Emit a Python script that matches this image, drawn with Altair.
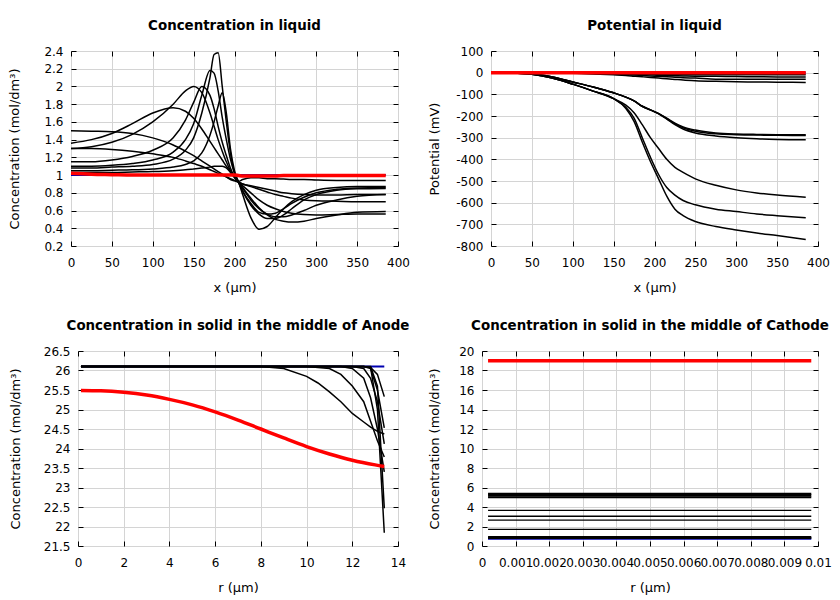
import altair as alt
import pandas as pd

FONT = "DejaVu Sans"

# ---------------- Panel 1: Concentration in liquid ----------------
LIQ_X = [0, 25, 50, 75, 100, 125, 140, 150, 160, 170, 175, 180, 185, 190, 195,
         200, 205, 210, 220, 230, 240, 250, 260, 270, 285, 300, 325, 350, 385]
LIQ_C1 = [1.03, 1.03, 1.03, 1.035, 1.04, 1.05, 1.06, 1.07, 1.08, 1.09, 1.10, 1.10, 1.10, 1.08, 1.03,
          0.97, 0.93, 0.95, 0.97, 0.97, 0.96, 0.96, 0.955, 0.95, 0.95, 0.945, 0.94, 0.94, 0.94]
LIQ_C2 = [1.05, 1.05, 1.055, 1.06, 1.07, 1.09, 1.12, 1.16, 1.25, 1.45, 1.60, 1.78, 1.93, 1.70, 1.30,
          1.05, 0.92, 0.82, 0.68, 0.58, 0.56, 0.57, 0.62, 0.68, 0.75, 0.80, 0.84, 0.855, 0.86]
LIQ_C3 = [1.08, 1.08, 1.09, 1.10, 1.12, 1.18, 1.28, 1.42, 1.70, 2.10, 2.36, 2.38, 2.00, 1.60, 1.25,
          1.02, 0.92, 0.78, 0.52, 0.39, 0.42, 0.52, 0.62, 0.70, 0.78, 0.83, 0.86, 0.87, 0.87]
LIQ_C4 = [1.10, 1.10, 1.11, 1.13, 1.17, 1.26, 1.40, 1.58, 1.90, 2.18, 2.15, 1.95, 1.65, 1.40, 1.18,
          1.02, 0.92, 0.82, 0.66, 0.56, 0.51, 0.51, 0.55, 0.62, 0.72, 0.78, 0.83, 0.845, 0.85]
LIQ_C5 = [1.15, 1.15, 1.17, 1.21, 1.28, 1.42, 1.62, 1.82, 2.00, 1.90, 1.75, 1.55, 1.37, 1.22, 1.08,
          0.98, 0.92, 0.85, 0.72, 0.62, 0.56, 0.53, 0.53, 0.55, 0.60, 0.66, 0.72, 0.76, 0.78]
LIQ_C6 = [1.30, 1.32, 1.37, 1.46, 1.60, 1.80, 1.95, 2.00, 1.93, 1.70, 1.55, 1.40, 1.27, 1.15, 1.05,
          0.98, 0.92, 0.86, 0.74, 0.63, 0.55, 0.50, 0.48, 0.47, 0.48, 0.51, 0.55, 0.58, 0.59]
LIQ_C7 = [1.36, 1.40, 1.47, 1.58, 1.70, 1.76, 1.72, 1.64, 1.52, 1.38, 1.31, 1.24, 1.17, 1.10, 1.04,
          0.98, 0.92, 0.88, 0.80, 0.72, 0.66, 0.62, 0.59, 0.57, 0.555, 0.55, 0.555, 0.56, 0.56]
LIQ_C8 = [1.50, 1.495, 1.49, 1.47, 1.42, 1.34, 1.27, 1.22, 1.16, 1.10, 1.07, 1.04, 1.01, 0.98, 0.95,
          0.935, 0.92, 0.90, 0.87, 0.84, 0.81, 0.78, 0.76, 0.74, 0.72, 0.71, 0.705, 0.70, 0.70]
LIQ_C9 = [1.30, 1.30, 1.29, 1.27, 1.24, 1.20, 1.16, 1.13, 1.10, 1.06, 1.04, 1.02, 1.00, 0.98, 0.96,
          0.94, 0.92, 0.90, 0.88, 0.86, 0.84, 0.82, 0.80, 0.79, 0.78, 0.775, 0.775, 0.78, 0.78]
LIQ_BLUE = [1.0] * len(LIQ_X)
LIQ_RED = [1.02, 1.01, 1.005, 1.0, 1.0, 1.0, 1.0, 1.0, 1.0, 1.0, 1.0, 1.0, 1.0, 1.0, 1.0,
           1.0, 0.995, 0.99, 0.99, 0.99, 0.99, 0.99, 0.995, 0.995, 0.995, 0.995, 0.995, 0.995, 0.995]

# ---------------- Panel 2: Potential in liquid ----------------
POT_X = [0, 25, 50, 75, 100, 125, 150, 165, 175, 185, 195, 205, 215, 225, 235,
         250, 275, 300, 325, 350, 385]
POT_S1 = [0, 0, 0, 0, -1, -2, -3, -4, -5, -6, -7, -8, -9, -10, -10, -10, -10, -10, -10, -10, -10]
POT_S2 = [0, 0, 0, -1, -2, -3, -5, -6, -8, -9, -10, -12, -13, -14, -15, -16, -17, -18, -19, -20, -20]
POT_S3 = [0, 0, 0, -1, -2, -4, -7, -9, -11, -13, -15, -17, -19, -21, -23, -25, -30, -30, -30, -30, -30]
POT_S4 = [0, 0, -1, -2, -3, -6, -10, -13, -16, -19, -22, -25, -28, -31, -34, -37, -40, -42, -43, -44, -45]
POT_G1 = [0, -1, -5, -20, -43, -66, -93, -113, -130, -155, -172, -188, -210, -233, -250,
          -265, -278, -283, -285, -286, -287]
POT_G2 = [0, -1, -5, -20, -43, -66, -93, -113, -130, -155, -172, -189, -212, -236, -254,
          -270, -282, -286, -288, -289, -290]
POT_G3 = [0, -1, -5, -20, -43, -66, -93, -113, -130, -155, -172, -190, -214, -240, -260,
          -278, -292, -300, -305, -308, -310]
POT_H1 = [0, -1, -7, -25, -53, -85, -120, -150, -185, -240, -300, -350, -400, -437, -460,
          -490, -520, -541, -555, -565, -575]
POT_H2 = [0, -1, -7, -25, -53, -85, -120, -160, -210, -300, -390, -470, -530, -565, -590,
          -610, -630, -641, -652, -660, -670]
POT_H3 = [0, -1, -7, -25, -53, -85, -120, -165, -225, -320, -410, -490, -570, -630, -660,
          -687, -710, -726, -740, -752, -770]
POT_RED = [0] * len(POT_X)

# ---------------- Panel 3: Concentration in solid, Anode ----------------
AN_R = [0.13, 2, 4, 6, 8, 9, 10, 10.5, 11, 11.5, 12, 12.5, 12.8, 13.1, 13.4]
AN_A1 = [26.1, 26.1, 26.1, 26.1, 26.1, 26.05, 25.85, 25.68, 25.45, 25.2, 24.9, 24.68, 24.55, 24.44, 24.37]
AN_A2 = [26.1, 26.1, 26.1, 26.1, 26.1, 26.1, 26.1, 26.08, 26.05, 25.9, 25.6, 25.2, 24.7, 24.2, 23.78]
AN_A3 = [26.1, 26.1, 26.1, 26.1, 26.1, 26.1, 26.1, 26.1, 26.1, 26.1, 26.1, 26.1, 26.08, 25.9, 25.33]
AN_A4 = [26.1, 26.1, 26.1, 26.1, 26.1, 26.1, 26.1, 26.1, 26.1, 26.1, 26.1, 26.1, 26.05, 25.5, 24.53]
AN_A5 = [26.1, 26.1, 26.1, 26.1, 26.1, 26.1, 26.1, 26.1, 26.1, 26.1, 26.1, 26.05, 25.8, 25.2, 24.12]
AN_A6 = [26.1, 26.1, 26.1, 26.1, 26.1, 26.1, 26.1, 26.1, 26.1, 26.1, 26.05, 25.8, 25.3, 24.5, 23.4]
AN_A7 = [26.1, 26.1, 26.1, 26.1, 26.1, 26.1, 26.1, 26.1, 26.1, 26.1, 26.1, 26.1, 26.1, 25.6, 22.47]
AN_A8 = [26.1, 26.1, 26.1, 26.1, 26.1, 26.1, 26.1, 26.1, 26.1, 26.1, 26.1, 26.1, 26.08, 25.0, 21.84]
AN_BLUE = [26.1] * len(AN_R)
AN_RED_R = [0.13, 1, 2, 3, 4, 5, 6, 7, 8, 9, 10, 11, 12, 13, 13.4]
AN_RED = [25.49, 25.48, 25.44, 25.37, 25.26, 25.12, 24.94, 24.73, 24.5, 24.27, 24.05, 23.86, 23.7, 23.58, 23.54]

# ---------------- Panel 4: Concentration in solid, Cathode ----------------
CA_R = [0.00018, 0.0098]
CA_LEVELS = [5.35, 5.2, 5.0, 3.65, 3.05, 2.65, 1.7, 0.92, 0.82]
CA_WIDTHS = [2.2, 2.2, 2.2, 1.3, 1.3, 1.3, 1.3, 2.2, 2.2]
CA_BLUE = 0.75
CA_RED = 19.0


def long_df(xs, series):
    rows = []
    for name, ys in series.items():
        for x, y in zip(xs, ys):
            rows.append({"x": x, "y": y, "s": name})
    return pd.DataFrame(rows)


LABEL_EXPR = "'' + datum.value"


def axis_main(**kw):
    d = dict(grid=True, gridColor="#d4d4d4", gridWidth=1, domain=False,
             tickColor="black", tickSize=5, tickWidth=1, offset=-5,
             labelFont=FONT, labelFontSize=12, labelColor="black",
             titleFont=FONT, titleFontSize=13, titleFontWeight="normal",
             titleColor="black", labelOverlap=False, labelFlush=False,
             labelExpr=LABEL_EXPR)
    d.update(kw)
    return alt.Axis(**d)


def axis_mirror(orient, vals):
    return alt.Axis(orient=orient, values=vals, labels=False, grid=False, domain=False,
                    tickColor="black", tickSize=5, tickWidth=1, offset=-5, title=None)


def panel(title, black_df, blue_df, red_df, xdom, xvals, ydom, yvals,
          xtitle, ytitle, w, h, ytp, black_interp="monotone",
          red_interp="monotone", black_width_field=False):
    xs = alt.Scale(domain=xdom, nice=False, zero=False)
    ys = alt.Scale(domain=ydom, nice=False, zero=False)
    xa = axis_main(values=xvals, title=xtitle, labelPadding=11, titlePadding=13)
    ya = axis_main(values=yvals, title=ytitle, labelPadding=8, titlePadding=ytp)
    enc = dict(x=alt.X("x:Q", scale=xs, axis=xa), y=alt.Y("y:Q", scale=ys, axis=ya),
               detail="s:N")
    if black_width_field:
        enc["strokeWidth"] = alt.StrokeWidth("w:Q", scale=None)
        black = alt.Chart(black_df).mark_line(color="black", interpolate=black_interp).encode(**enc)
    else:
        black = alt.Chart(black_df).mark_line(color="black", strokeWidth=1.5,
                                              interpolate=black_interp).encode(**enc)
    blue = alt.Chart(blue_df).mark_line(color="#0000b0", strokeWidth=2).encode(
        x=alt.X("x:Q", scale=xs, axis=None), y=alt.Y("y:Q", scale=ys, axis=None))
    red = alt.Chart(red_df).mark_line(color="#ff0000", strokeWidth=3.5,
                                      interpolate=red_interp).encode(
        x=alt.X("x:Q", scale=xs, axis=axis_mirror("top", xvals)),
        y=alt.Y("y:Q", scale=ys, axis=axis_mirror("right", yvals)))
    return alt.layer(blue, black, red).resolve_axis(x="independent", y="independent").properties(
        width=w, height=h,
        title=alt.TitleParams(title, font=FONT, fontSize=13.4, fontWeight="bold",
                              color="black", frame="group", anchor="middle",
                              baseline="alphabetic", offset=2))


def spacer(w, h):
    d = pd.DataFrame({"a": [0]})
    return alt.Chart(d).mark_point(opacity=0).encode(
        x=alt.X("a:Q", axis=None), y=alt.Y("a:Q", axis=None)
    ).properties(width=w, height=h, view=alt.ViewBackground(stroke="transparent"))


# build data frames
p1_black = long_df(LIQ_X, {"c1": LIQ_C1, "c2": LIQ_C2, "c3": LIQ_C3, "c4": LIQ_C4, "c5": LIQ_C5,
                           "c6": LIQ_C6, "c7": LIQ_C7, "c8": LIQ_C8, "c9": LIQ_C9})
p1_blue = long_df(LIQ_X, {"b": LIQ_BLUE})
p1_red = long_df(LIQ_X, {"r": LIQ_RED})

p2_black = long_df(POT_X, {"s1": POT_S1, "s2": POT_S2, "s3": POT_S3, "s4": POT_S4,
                           "g1": POT_G1, "g2": POT_G2, "g3": POT_G3,
                           "h1": POT_H1, "h2": POT_H2, "h3": POT_H3})
p2_blue = long_df(POT_X, {"b": POT_RED})
p2_red = long_df(POT_X, {"r": POT_RED})

p3_black = long_df(AN_R, {"a1": AN_A1, "a2": AN_A2, "a3": AN_A3, "a4": AN_A4,
                          "a5": AN_A5, "a6": AN_A6, "a7": AN_A7, "a8": AN_A8})
p3_blue = long_df(AN_R, {"b": AN_BLUE})
p3_red = long_df(AN_RED_R, {"r": AN_RED})

rows = []
for i, (lv, wd) in enumerate(zip(CA_LEVELS, CA_WIDTHS)):
    for x in CA_R:
        rows.append({"x": x, "y": lv, "s": f"l{i}", "w": wd})
p4_black = pd.DataFrame(rows)
p4_blue = long_df(CA_R, {"b": [CA_BLUE] * len(CA_R)})
p4_red = long_df(CA_R, {"r": [CA_RED] * len(CA_R)})

conc_title = "Concentration (mol/dm³)"

p1 = panel("Concentration in liquid", p1_black, p1_blue, p1_red,
           [0, 400], list(range(0, 401, 50)), [0.2, 2.4],
           [round(0.2 + 0.2 * i, 1) for i in range(12)],
           "x (µm)", conc_title, 327, 195, 22)
p2 = panel("Potential in liquid", p2_black, p2_blue, p2_red,
           [0, 400], list(range(0, 401, 50)), [-800, 100],
           list(range(-800, 101, 100)),
           "x (µm)", "Potential (mV)", 327, 195, 14)
p3 = panel("Concentration in solid in the middle of Anode", p3_black, p3_blue, p3_red,
           [0, 14], list(range(0, 15, 2)), [21.5, 26.5],
           [21.5 + 0.5 * i for i in range(11)],
           "r (µm)", conc_title, 320, 195, 21, black_interp="linear")
p4 = panel("Concentration in solid in the middle of Cathode", p4_black, p4_blue, p4_red,
           [0, 0.01], [round(0.001 * i, 3) for i in range(11)], [0, 20],
           list(range(0, 21, 2)),
           "r (µm)", conc_title, 336, 195, 17, black_interp="linear",
           red_interp="linear", black_width_field=True)

row1 = alt.hconcat(p1, p2, spacing=93, bounds="flush")
row2 = alt.hconcat(spacer(7, 195), p3, spacer(84, 195), p4, spacing=0, bounds="flush")
chart = alt.vconcat(row1, row2, spacing=300, bounds="flush").properties(
    padding={"left": 0, "top": 10, "right": 0, "bottom": 0}
).configure_view(stroke="black", strokeWidth=1).configure(background="white")

chart.save("out.html", embed_options={"renderer": "svg", "actions": False})
